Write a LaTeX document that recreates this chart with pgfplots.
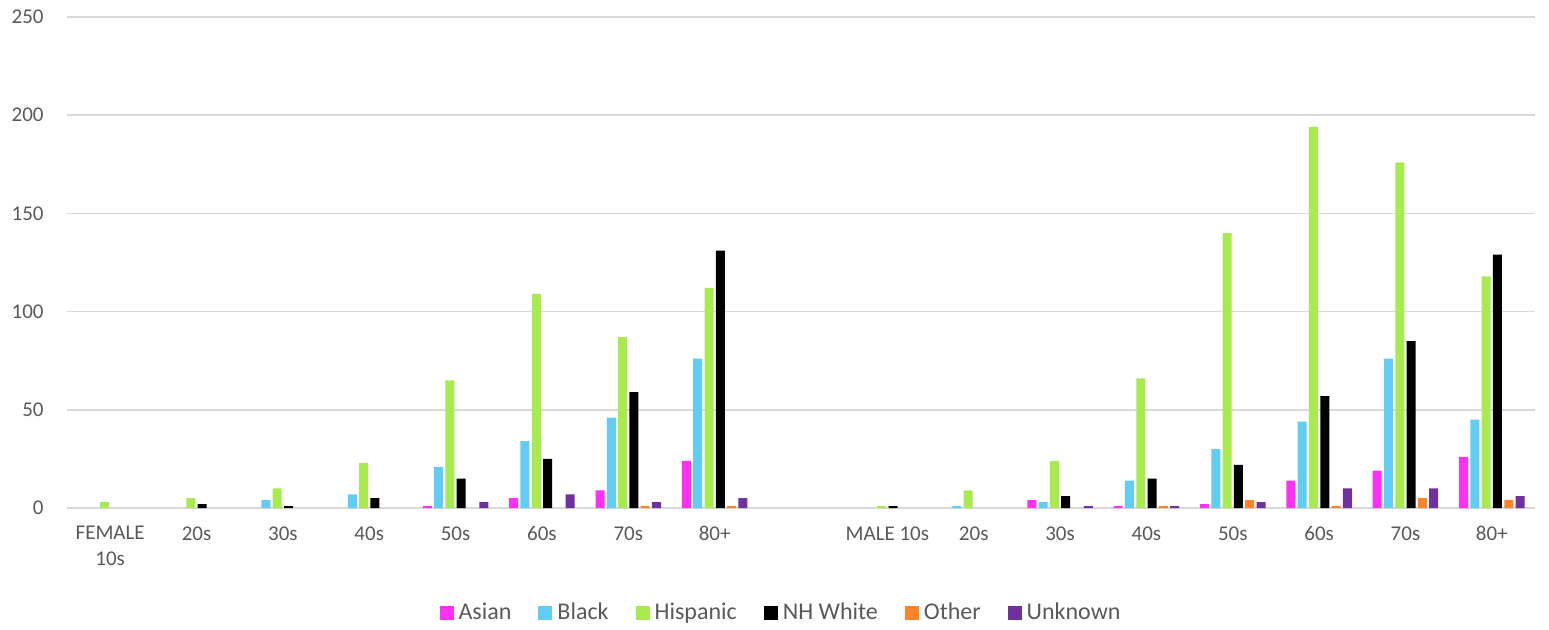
\documentclass[border=0pt]{standalone}
\usepackage{pgfplots}
\pgfplotsset{compat=1.18}
\usepackage{fontspec}
\setmainfont{Carlito}
\definecolor{cAsian}{HTML}{FF2FF5}
\definecolor{cBlack}{HTML}{5FCDF4}
\definecolor{cHisp}{HTML}{A9EA4F}
\definecolor{cWhite}{HTML}{000000}
\definecolor{cOther}{HTML}{FF8426}
\definecolor{cUnk}{HTML}{7030A0}
\definecolor{txt}{HTML}{595959}
\definecolor{grid}{HTML}{D9D9D9}
\begin{document}
\begin{tikzpicture}
\path[use as bounding box] (-33.5pt,-60.5pt) rectangle (741pt,254pt);
\begin{axis}[
  scale only axis,
  width=734pt, height=245.5pt,
  ybar=1.15pt, bar width=4.5pt,
  xmin=-0.5, xmax=16.5,
  ymin=0, ymax=250,
  ytick={0,50,...,250},
  xtick={0,...,16},
  xticklabels={{FEMALE\\10s},20s,30s,40s,50s,60s,70s,80+,{},MALE 10s,20s,30s,40s,50s,60s,70s,80+},
  axis line style={draw=none},
  major tick length=0pt,
  ymajorgrids,
  major grid style={draw=grid, line width=0.75pt},
  /pgf/number format/assume math mode=true,
  tick label style={font=\fontsize{10.5}{13}\selectfont, text=txt},
  yticklabel style={anchor=east, inner sep=0pt, xshift=-11.5pt},
  xticklabel style={anchor=north, inner sep=0pt, yshift=-9pt, align=center},
  legend style={at={(0.4871,-0.2138)}, anchor=center, draw=none, fill=none,
    font=\fontsize{12}{14}\selectfont, text=txt, legend columns=-1,
    /tikz/every even column/.append style={column sep=11.5pt},
    /tikz/every odd column/.append style={column sep=0.5pt}},
  legend image code/.code={\fill[#1] (0pt,-3.5pt) rectangle (7pt,3.5pt);},
  every axis plot/.append style={draw=none},
]
\addplot[fill=cAsian] coordinates {(4,1)(5,5)(6,9)(7,24)(11,4)(12,1)(13,2)(14,14)(15,19)(16,26)};
\addplot[fill=cBlack] coordinates {(2,4)(3,7)(4,21)(5,34)(6,46)(7,76)(10,1)(11,3)(12,14)(13,30)(14,44)(15,76)(16,45)};
\addplot[fill=cHisp] coordinates {(0,3)(1,5)(2,10)(3,23)(4,65)(5,109)(6,87)(7,112)(9,1)(10,9)(11,24)(12,66)(13,140)(14,194)(15,176)(16,118)};
\addplot[fill=cWhite] coordinates {(1,2)(2,1)(3,5)(4,15)(5,25)(6,59)(7,131)(9,1)(11,6)(12,15)(13,22)(14,57)(15,85)(16,129)};
\addplot[fill=cOther] coordinates {(6,1)(7,1)(12,1)(13,4)(14,1)(15,5)(16,4)};
\addplot[fill=cUnk] coordinates {(4,3)(5,7)(6,3)(7,5)(11,1)(12,1)(13,3)(14,10)(15,10)(16,6)};
\legend{Asian,Black,Hispanic,NH White,Other,Unknown}
\end{axis}
\end{tikzpicture}
\end{document}
